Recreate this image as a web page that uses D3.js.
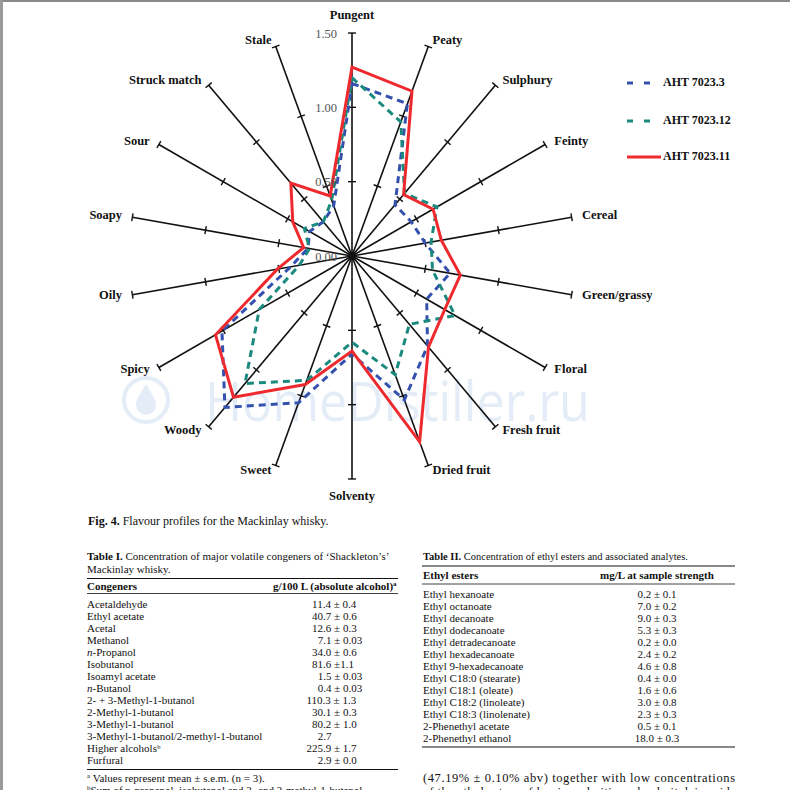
<!DOCTYPE html>
<html>
<head>
<meta charset="utf-8">
<script src="https://cdn.jsdelivr.net/npm/d3@7"></script>
<style>
  body { margin: 0; background: #fff; }
  svg { display: block; font-family: "Liberation Serif", "Times New Roman", serif; }
</style>
</head>
<body>
<div id="page"></div>
<script>
// flavour attributes, clockwise from the top
var attributes = ["Pungent", "Peaty", "Sulphury", "Feinty", "Cereal", "Green/grassy", "Floral",
  "Fresh fruit", "Dried fruit", "Solventy", "Sweet", "Woody", "Spicy", "Oily", "Soapy",
  "Sour", "Struck match", "Stale"];

var seriesNames = ["AHT 7023.3", "AHT 7023.12", "AHT 7023.11"];
var aht3 =  [1.16, 1.09, 0.45, 0.46, 0.50, 0.67, 0.58, 0.79, 1.03, 0.66, 1.05, 1.33, 1.01, 0.42, 0.30, 0.33, 0.30, 0.36];
var aht12 = [1.20, 0.96, 0.55, 0.66, 0.54, 0.55, 0.80, 0.60, 0.85, 0.58, 0.89, 1.12, 0.72, 0.36, 0.29, 0.37, 0.30, 0.40];
var aht11 = [1.27, 1.18, 0.54, 0.63, 0.61, 0.74, 0.72, 0.80, 1.33, 0.64, 0.92, 1.24, 1.06, 0.51, 0.33, 0.46, 0.64, 0.43];
var tickValues = [0, 0.5, 1.0, 1.5];

var congeners = ["Acetaldehyde", "Ethyl acetate", "Acetal", "Methanol", "n-Propanol", "Isobutanol",
  "Isoamyl acetate", "n-Butanol", "2- + 3-Methyl-1-butanol", "2-Methyl-1-butanol", "3-Methyl-1-butanol",
  "3-Methyl-1-butanol/2-methyl-1-butanol", "Higher alcohols\u1D47", "Furfural"];
var congenerValues = ["11.4 \u00B1 0.4", "40.7 \u00B1 0.6", "12.6 \u00B1 0.3", "7.1 \u00B1 0.03", "34.0 \u00B1 0.6",
  "81.6 \u00B11.1", "1.5 \u00B1 0.03", "0.4 \u00B1 0.03", "110.3 \u00B1 1.3", "30.1 \u00B1 0.3", "80.2 \u00B1 1.0",
  "2.7", "225.9 \u00B1 1.7", "2.9 \u00B1 0.0"];

var esters = ["Ethyl hexanoate", "Ethyl octanoate", "Ethyl decanoate", "Ethyl dodecanoate", "Ethyl detradecanoate",
  "Ethyl hexadecanoate", "Ethyl 9-hexadecanoate", "Ethyl C18:0 (stearate)", "Ethyl C18:1 (oleate)",
  "Ethyl C18:2 (linoleate)", "Ethyl C18:3 (linolenate)", "2-Phenethyl acetate", "2-Phenethyl ethanol"];
var esterValues = ["0.2 \u00B1 0.1", "7.0 \u00B1 0.2", "9.0 \u00B1 0.3", "5.3 \u00B1 0.3", "0.2 \u00B1 0.0",
  "2.4 \u00B1 0.2", "4.6 \u00B1 0.8", "0.4 \u00B1 0.0", "1.6 \u00B1 0.6", "3.0 \u00B1 0.8", "2.3 \u00B1 0.3",
  "0.5 \u00B1 0.1", "18.0 \u00B1 0.3"];

var svg = d3.select("#page").append("svg")
  .attr("width", 790)
  .attr("height", 790);

// page edge
svg.append("line").attr("x1", 0).attr("x2", 790).attr("y1", 1).attr("y2", 1)
  .attr("stroke", "#8a8a8a").attr("stroke-width", 2);
svg.append("line").attr("x1", 1.5).attr("x2", 1.5).attr("y1", 0).attr("y2", 790)
  .attr("stroke", "#9a9a9a").attr("stroke-width", 3);

// watermark
var wm = svg.append("g").attr("opacity", 0.55);
wm.append("circle").attr("cx", 146).attr("cy", 400).attr("r", 22)
  .attr("fill", "none").attr("stroke", "#cfe0f1").attr("stroke-width", 4);
wm.append("path").attr("d", "M146,384 C140,394 136,400 136,405 a10,10 0 0 0 20,0 C156,400 152,394 146,384 Z")
  .attr("fill", "#cfe0f1");
wm.append("text").attr("x", 205).attr("y", 421)
  .attr("font-family", "'Open Sans', 'DejaVu Sans', sans-serif")
  .attr("font-size", 54).attr("fill", "#cfe0f1")
  .attr("textLength", 385).attr("lengthAdjust", "spacingAndGlyphs")
  .text("HomeDistiller.ru");

var cx = 352, cy = 256;
var rScale = d3.scaleLinear().domain([0, 1.5]).range([0, 223]);
var step = 2 * Math.PI / attributes.length;

var chart = svg.append("g").attr("transform", `translate(${cx}, ${cy})`);

// spokes
attributes.forEach(function(name, i) {
  var a = i * step;
  var sx = Math.sin(a), sy = -Math.cos(a);
  chart.append("line")
    .attr("x1", 0).attr("y1", 0)
    .attr("x2", rScale(1.5) * sx).attr("y2", rScale(1.5) * sy)
    .attr("stroke", "#111").attr("stroke-width", 1.6);

  tickValues.slice(1).forEach(function(v) {
    var px = rScale(v) * sx, py = rScale(v) * sy;
    var ux = Math.cos(a) * 4, uy = Math.sin(a) * 4;
    chart.append("line")
      .attr("x1", px - ux).attr("y1", py - uy)
      .attr("x2", px + ux).attr("y2", py + uy)
      .attr("stroke", "#111").attr("stroke-width", 1.4);
  });

  var ex = cx + rScale(1.5) * sx, ey = cy + rScale(1.5) * sy;
  var label = svg.append("text")
    .attr("font-weight", "bold")
    .attr("font-size", 12.5)
    .attr("fill", "#111")
    .attr("dominant-baseline", "middle")
    .text(name);
  if (Math.abs(sx) < 0.01) {
    label.attr("text-anchor", "middle").attr("x", ex).attr("y", sy < 0 ? ey - 17 : ey + 18);
  } else {
    var off = 9.5 * Math.abs(sx) + 1;
    label.attr("text-anchor", sx > 0 ? "start" : "end")
      .attr("x", sx > 0 ? ex + off : ex - off)
      .attr("y", ey - 5.5 * Math.cos(a));
  }
});

chart.append("circle").attr("r", 4).attr("fill", "#111");

// scale labels along the top spoke
var yAxisScale = d3.scaleLinear().domain([0, 1.5]).range([cy, cy - 223]);
var yAxis = svg.append("g")
  .attr("transform", `translate(${cx}, 0)`)
  .call(d3.axisLeft(yAxisScale).tickValues(tickValues).tickFormat(d3.format(".2f")).tickSize(0).tickPadding(15));
yAxis.select(".domain").remove();
yAxis.selectAll("text")
  .attr("font-family", "'Liberation Serif', serif")
  .attr("font-size", 12.5)
  .attr("fill", "#555");

// profiles
var radial = d3.lineRadial()
  .angle(function(d, i) { return i * step; })
  .radius(function(d) { return rScale(d); })
  .curve(d3.curveLinearClosed);

var styles = [
  { data: aht3, color: "#3452ad", dash: "7,5" },
  { data: aht12, color: "#1b8a7e", dash: "7,5" },
  { data: aht11, color: "#ee2a2f", dash: null }
];

styles.forEach(function(s) {
  chart.append("path")
    .attr("d", radial(s.data))
    .attr("fill", "none")
    .attr("stroke", s.color)
    .attr("stroke-width", 3)
    .attr("stroke-linejoin", "miter")
    .attr("stroke-dasharray", s.dash);
});

// legend
var legendY = [83, 121, 157];
styles.forEach(function(s, i) {
  var g = svg.append("g").attr("transform", `translate(627, ${legendY[i]})`);
  if (s.dash) {
    g.append("line").attr("x1", 0).attr("x2", 6).attr("stroke", s.color).attr("stroke-width", 3);
    g.append("line").attr("x1", 17).attr("x2", 23).attr("stroke", s.color).attr("stroke-width", 3);
  } else {
    g.append("line").attr("x1", 0).attr("x2", 34).attr("stroke", s.color).attr("stroke-width", 3);
  }
  g.append("text").attr("x", 36).attr("dominant-baseline", "middle")
    .attr("font-weight", "bold").attr("font-size", 12).attr("fill", "#111")
    .text(seriesNames[i]);
});

// figure caption
var cap = svg.append("text").attr("x", 88).attr("y", 525).attr("font-size", 12).attr("fill", "#111");
cap.append("tspan").attr("font-weight", "bold").text("Fig. 4.");
cap.append("tspan").text(" Flavour profiles for the Mackinlay whisky.");

function nameText(sel, name) {
  if (name.indexOf("n-") === 0) {
    sel.append("tspan").attr("font-style", "italic").text("n");
    sel.append("tspan").text(name.slice(1));
  } else {
    sel.text(name);
  }
}

// Table I
var t1 = svg.append("g").attr("font-size", 11).attr("fill", "#111");
var t1title = t1.append("text").attr("x", 87).attr("y", 560);
t1title.append("tspan").attr("font-weight", "bold").text("Table I.");
t1title.append("tspan").text(" Concentration of major volatile congeners of \u2018Shackleton\u2019s\u2019");
t1.append("text").attr("x", 87).attr("y", 573).text("Mackinlay whisky.");
t1.append("line").attr("x1", 87).attr("x2", 398).attr("y1", 578.5).attr("y2", 578.5).attr("stroke", "#111").attr("stroke-width", 1.2);
t1.append("text").attr("x", 87).attr("y", 590).attr("font-weight", "bold").text("Congeners");
var h1 = t1.append("text").attr("x", 273).attr("y", 590).attr("font-weight", "bold");
h1.append("tspan").text("g/100 L (absolute alcohol)");
h1.append("tspan").attr("font-size", 7).attr("dy", -4).text("a");
t1.append("line").attr("x1", 87).attr("x2", 398).attr("y1", 593.5).attr("y2", 593.5).attr("stroke", "#111").attr("stroke-width", 0.8);
congeners.forEach(function(name, i) {
  nameText(t1.append("text").attr("x", 87).attr("y", 608 + 12 * i), name);
  var intDigits = congenerValues[i].split(".")[0].length;
  t1.append("text").attr("x", 306.5 + (3 - intDigits) * 5.6).attr("y", 608 + 12 * i).text(congenerValues[i]);
});
t1.append("line").attr("x1", 87).attr("x2", 398).attr("y1", 769.5).attr("y2", 769.5).attr("stroke", "#111").attr("stroke-width", 1.2);
var fa = t1.append("text").attr("x", 87).attr("y", 782);
fa.append("tspan").attr("font-size", 7).attr("dy", -4).text("a");
fa.append("tspan").attr("dy", 4).text(" Values represent mean \u00B1 s.e.m. (n = 3).");
var fb = t1.append("text").attr("x", 87).attr("y", 794);
fb.append("tspan").attr("font-size", 7).attr("dy", -4).text("b");
fb.append("tspan").attr("dy", 4).text("Sum of n-propanol, isobutanol and 2- and 3-methyl-1-butanol.");

// Table II
var t2 = svg.append("g").attr("font-size", 11).attr("fill", "#111");
var t2title = t2.append("text").attr("x", 423).attr("y", 560).attr("font-size", 10.5);
t2title.append("tspan").attr("font-weight", "bold").text("Table II.");
t2title.append("tspan").text(" Concentration of ethyl esters and associated analytes.");
t2.append("line").attr("x1", 422).attr("x2", 735).attr("y1", 566).attr("y2", 566).attr("stroke", "#111").attr("stroke-width", 1.2);
t2.append("text").attr("x", 423).attr("y", 579).attr("font-weight", "bold").text("Ethyl esters");
t2.append("text").attr("x", 657).attr("y", 579).attr("text-anchor", "middle").attr("font-weight", "bold").text("mg/L at sample strength");
t2.append("line").attr("x1", 422).attr("x2", 735).attr("y1", 584).attr("y2", 584).attr("stroke", "#111").attr("stroke-width", 0.8);
esters.forEach(function(name, i) {
  t2.append("text").attr("x", 423).attr("y", 597.5 + 12 * i).text(name);
  t2.append("text").attr("x", 657).attr("y", 597.5 + 12 * i).attr("text-anchor", "middle").text(esterValues[i]);
});
t2.append("line").attr("x1", 422).attr("x2", 735).attr("y1", 747).attr("y2", 747).attr("stroke", "#111").attr("stroke-width", 1.2);

// running text below Table II
svg.append("text").attr("x", 423).attr("y", 782).attr("font-size", 12.5).attr("fill", "#111")
  .attr("textLength", 312).attr("lengthAdjust", "spacing")
  .text("(47.19% \u00B1 0.10% abv) together with low concentrations");
svg.append("text").attr("x", 423).attr("y", 796).attr("font-size", 12.5).attr("fill", "#111")
  .attr("textLength", 312).attr("lengthAdjust", "spacing")
  .text("of the ethyl esters of lauric, palmitic and palmitoleic acids");
</script>
</body>
</html>
